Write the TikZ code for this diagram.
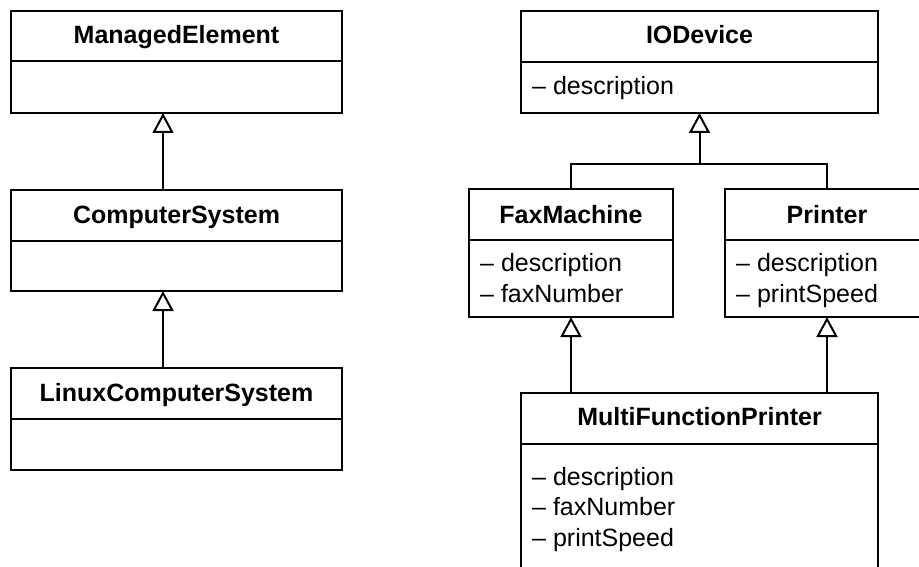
\documentclass[tikz,border=0pt]{standalone}
\usepackage{fontspec}
\setmainfont{Liberation Sans}
\usetikzlibrary{arrows.meta,calc}
\tikzset{
  box/.style={draw, line width=2pt, rectangle, inner sep=0pt, outer sep=0pt},
  ttl/.style={anchor=base, inner sep=0pt, font=\fontsize{25}{30}\selectfont\bfseries},
  attr/.style={anchor=base west, inner sep=0pt, font=\fontsize{25}{30}\selectfont},
  hdr/.style={line width=2pt},
  conn/.style={line width=2pt},
  gen/.style={line width=2pt, -{Triangle[open, length=20pt, width=21pt, line width=2pt]}}
}
\begin{document}
\begin{tikzpicture}[x=1pt,y=-1pt]
\useasboundingbox (0,0) rectangle (919,567);
\clip (0,0) rectangle (919,567);
\fill[white] (0,0) rectangle (919,567);
% left column
\node[box, minimum width=331pt, minimum height=102pt] (me) at (176.5,62) {};
\node[box, minimum width=331pt, minimum height=101pt] (cs) at (176.5,240.5) {};
\node[box, minimum width=331pt, minimum height=102pt] (lcs) at (176.5,419) {};
\draw[hdr] ($(me.north west)+(0,50)$) -- ($(me.north east)+(0,50)$);
\draw[hdr] ($(cs.north west)+(0,51)$) -- ($(cs.north east)+(0,51)$);
\draw[hdr] ($(lcs.north west)+(0,51)$) -- ($(lcs.north east)+(0,51)$);
\node[ttl] (met) at (176.5,44) {ManagedElement};
\node[ttl] (cst) at (176.5,223) {ComputerSystem};
\node[ttl] (lcst) at (176.5,401) {LinuxComputerSystem};
\coordinate (ax) at (163,0);
\draw[gen] (cs.north -| ax) -- (me.south -| ax);
\draw[gen] (lcs.north -| ax) -- (cs.south -| ax);
% right side
\node[box, minimum width=357pt, minimum height=102pt] (io) at (699.5,62) {};
\draw[hdr] ($(io.north west)+(0,51)$) -- ($(io.north east)+(0,51)$);
\node[ttl] (iot) at (699.5,44) {IODevice};
\node[attr] (ioa) at (532,95) {– description};

\node[box, minimum width=204pt, minimum height=128pt] (fax) at (571,253) {};
\draw[hdr] ($(fax.north west)+(0,51)$) -- ($(fax.north east)+(0,51)$);
\node[ttl] (faxt) at (571,223) {FaxMachine};
\node[attr] (faxa1) at (480,271) {– description};
\node[attr] (faxa2) at (480,302) {– faxNumber};

\node[box, minimum width=204pt, minimum height=128pt] (pr) at (827,253) {};
\draw[hdr] ($(pr.north west)+(0,51)$) -- ($(pr.north east)+(0,51)$);
\node[ttl] (prt) at (827,223) {Printer};
\node[attr] (pra1) at (736,271) {– description};
\node[attr] (pra2) at (736,302) {– printSpeed};

\node[box, minimum width=357pt, minimum height=207pt] (mfp) at (699.5,496.5) {};
\draw[hdr] ($(mfp.north west)+(0,51)$) -- ($(mfp.north east)+(0,51)$);
\node[ttl] (mfpt) at (699.5,425) {MultiFunctionPrinter};
\node[attr] (mfpa1) at (532,485) {– description};
\node[attr] (mfpa2) at (532,515.5) {– faxNumber};
\node[attr] (mfpa3) at (532,546) {– printSpeed};

\coordinate (jn) at (699.5,164);
\draw[conn] (fax.north) |- (jn);
\draw[conn] (pr.north) |- (jn);
\draw[gen] (jn) -- (io.south);
\draw[gen] (mfp.north -| fax.south) -- (fax.south);
\draw[gen] (mfp.north -| pr.south) -- (pr.south);
\end{tikzpicture}
\end{document}
